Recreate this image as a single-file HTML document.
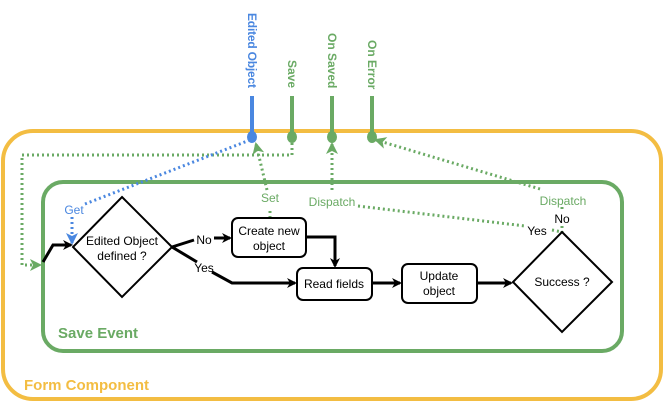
<!DOCTYPE html>
<html><head><style>body{margin:0;background:#fff}svg{display:block}text{font-family:"Liberation Sans",sans-serif}</style></head><body>
<svg width="665" height="403" viewBox="0 0 665 403" xmlns="http://www.w3.org/2000/svg">
<defs>
<marker id="ab" markerWidth="10" markerHeight="10" refX="8" refY="5" orient="auto" markerUnits="userSpaceOnUse"><path d="M0,0 L10,5 L0,10 L3,5z" fill="#000"/></marker>
<marker id="ag" markerWidth="12" markerHeight="12" refX="10" refY="6" orient="auto" markerUnits="userSpaceOnUse"><path d="M0,0 L12,6 L0,12 L3,6z" fill="#6aaa64"/></marker>
<marker id="au" markerWidth="12" markerHeight="12" refX="10" refY="6" orient="auto" markerUnits="userSpaceOnUse"><path d="M0,0 L12,6 L0,12 L3,6z" fill="#4a87e0"/></marker>
</defs>
<rect x="3" y="131" width="658" height="268" rx="30" fill="none" stroke="#f3bd42" stroke-width="4"/>
<rect x="43" y="182" width="579" height="169" rx="20" fill="none" stroke="#6aaa64" stroke-width="4"/>
<line x1="252" y1="96" x2="252" y2="136" stroke="#4a87e0" stroke-width="4"/>
<ellipse cx="252" cy="137" rx="5" ry="6" fill="#4a87e0"/>
<g stroke="#6aaa64" stroke-width="4"><line x1="292" y1="96" x2="292" y2="136"/><line x1="332" y1="96" x2="332" y2="136"/><line x1="372" y1="96" x2="372" y2="136"/></g>
<g fill="#6aaa64"><ellipse cx="292" cy="137" rx="5" ry="6"/><ellipse cx="332" cy="137" rx="5" ry="6"/><ellipse cx="372" cy="137" rx="5" ry="6"/></g>
<g font-size="12" font-weight="bold">
<text transform="translate(248,13) rotate(90)" fill="#4a87e0" textLength="75">Edited Object</text>
<text transform="translate(288,60) rotate(90)" fill="#6aaa64">Save</text>
<text transform="translate(328,33) rotate(90)" fill="#6aaa64">On Saved</text>
<text transform="translate(368,40) rotate(90)" fill="#6aaa64">On Error</text>
</g>
<g fill="none" stroke="#6aaa64" stroke-width="3" stroke-dasharray="2 3">
<path d="M292,143 V155 H22 V265 H40" marker-end="url(#ag)"/>
<path d="M270,228 V210"/><path d="M267,190 L256,144" marker-end="url(#ag)"/>
<path d="M332,190 V144" marker-end="url(#ag)"/>
<path d="M358,206 L525,226"/><path d="M552,230 L562,232"/>
<path d="M540,189 L376,140" marker-end="url(#ag)"/>
<path d="M562,207 V211"/><path d="M562,226 V232"/>
</g>
<g fill="none" stroke="#4a87e0" stroke-width="3" stroke-dasharray="2 3">
<path d="M250,140 L85,204"/><path d="M72,217 V243" marker-end="url(#au)"/>
</g>
<g font-size="12" fill="#6aaa64">
<text x="270" y="202" text-anchor="middle">Set</text>
<text x="332" y="206" text-anchor="middle">Dispatch</text>
<text x="563" y="205" text-anchor="middle">Dispatch</text>
</g>
<text x="74" y="214" font-size="12" fill="#4a87e0" text-anchor="middle">Get</text>
<g fill="#fff" stroke="#000" stroke-width="2">
<path d="M122,197 L172,247 L122,297 L73,247z"/>
<rect x="232" y="218" width="74" height="39" rx="6"/>
<rect x="297" y="268" width="75" height="32" rx="6"/>
<rect x="402" y="264" width="75" height="39" rx="6"/>
<path d="M562,232 L612,282 L562,332 L513,282z"/>
</g>
<g font-size="12" fill="#000" text-anchor="middle">
<text x="122" y="245">Edited Object</text><text x="122" y="260">defined ?</text>
<text x="269" y="235">Create new</text><text x="269" y="250">object</text>
<text x="334" y="288">Read fields</text>
<text x="439" y="280">Update</text><text x="439" y="295">object</text>
<text x="562" y="286">Success ?</text>
</g>
<g fill="none" stroke="#000" stroke-width="3">
<path d="M43,262 L53,245 L71,245" marker-end="url(#ab)"/>
<path d="M172,247 L194,240"/><path d="M214,238 L230,238" marker-end="url(#ab)"/>
<path d="M172,247 L197,262"/><path d="M212,272 L232,283 L295,283" marker-end="url(#ab)"/>
<path d="M306,237 H335 V266" marker-end="url(#ab)"/>
<path d="M372,283 H400" marker-end="url(#ab)"/>
<path d="M477,283 H511" marker-end="url(#ab)"/>
</g>
<g font-size="12" fill="#000" text-anchor="middle">
<text x="204" y="244">No</text><text x="204" y="272">Yes</text>
<text x="537" y="235">Yes</text><text x="562" y="223">No</text>
</g>
<text x="58" y="338" font-size="15" font-weight="bold" fill="#6aaa64">Save Event</text>
<text x="24" y="390" font-size="15" font-weight="bold" fill="#f3bd42">Form Component</text>
</svg>
</body></html>
